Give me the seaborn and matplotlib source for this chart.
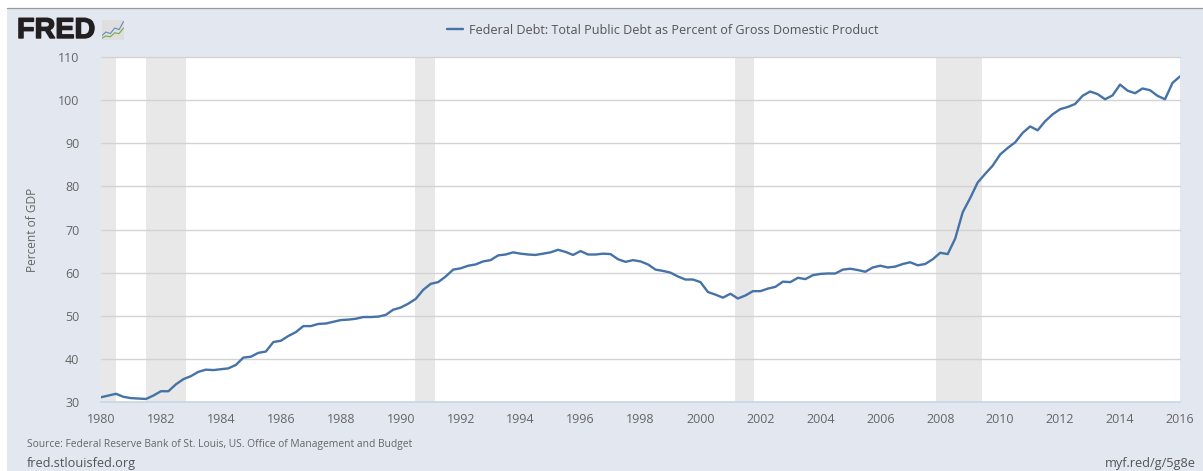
import numpy as np
import pandas as pd
import matplotlib
matplotlib.use("Agg")
import matplotlib.pyplot as plt
import matplotlib.patheffects as pe
from matplotlib.patches import Rectangle
from matplotlib.lines import Line2D
import seaborn as sns

START_YEAR = 1980
debt_pct_gdp = [
    31.1, 31.5, 31.9, 31.2, 30.9, 30.8, 30.7, 31.5, 32.5, 32.5, 34.1, 35.3,
    36.0, 37.0, 37.5, 37.4, 37.6, 37.8, 38.6, 40.3, 40.5, 41.4, 41.7, 43.9,
    44.2, 45.3, 46.2, 47.6, 47.6, 48.1, 48.2, 48.6, 49.0, 49.1, 49.3, 49.7,
    49.7, 49.8, 50.2, 51.4, 51.9, 52.8, 53.9, 56.0, 57.4, 57.8, 59.1, 60.7,
    61.0, 61.6, 61.9, 62.6, 62.9, 64.0, 64.2, 64.7, 64.4, 64.2, 64.1, 64.4,
    64.7, 65.3, 64.8, 64.1, 65.0, 64.2, 64.2, 64.4, 64.3, 63.1, 62.5, 62.9,
    62.6, 61.9, 60.7, 60.4, 60.0, 59.1, 58.4, 58.4, 57.8, 55.5, 54.9, 54.2,
    55.1, 54.0, 54.7, 55.7, 55.7, 56.3, 56.7, 57.9, 57.8, 58.8, 58.5, 59.4,
    59.7, 59.8, 59.8, 60.7, 60.9, 60.6, 60.2, 61.2, 61.6, 61.2, 61.4, 62.0,
    62.4, 61.7, 62.0, 63.1, 64.6, 64.3, 67.9, 74.0, 77.3, 80.9, 82.9, 84.8,
    87.4, 88.9, 90.2, 92.4, 93.9, 93.0, 95.1, 96.7, 97.9, 98.4, 99.1, 101.0,
    102.0, 101.4, 100.2, 101.1, 103.6, 102.2, 101.6, 102.7, 102.3, 101.0, 100.2, 104.0,
    105.5,
]
recession_starts = [1980.0, 1981.5, 1990.48, 2001.15, 2007.87]
recession_ends = [1980.5, 1982.83, 1991.13, 2001.8, 2009.4]
x_ticks = list(range(1980, 2017, 2))
y_ticks = [30, 40, 50, 60, 70, 80, 90, 100, 110]
series_name = "Federal Debt: Total Public Debt as Percent of Gross Domestic Product"
y_label = "Percent of GDP"
source_text = "Source: Federal Reserve Bank of St. Louis, US. Office of Management and Budget"
icon_blue = [1, 2, 1.6, 3, 2.6, 4.6]
icon_green = [0.4, 1, 0.8, 1.8, 1.6, 3.0]

W, H = 1203, 471
PANEL = "#e2e7f0"
TXT = "#666666"
BLUE = "#4572a7"

sns.set_theme(style="white")
plt.rcParams["font.family"] = ["Open Sans", "DejaVu Sans"]

fig = plt.figure(figsize=(W / 100, H / 100), dpi=100, facecolor="white")
def fx(p): return p / W
def fy(p): return 1 - p / H

fig.add_artist(Rectangle((fx(7), 0), 1 - fx(7), fy(8), transform=fig.transFigure, fc=PANEL, ec="none", zorder=-5))
fig.add_artist(Line2D([fx(7), 1], [fy(8), fy(8)], transform=fig.transFigure, color="#9a9a9a", lw=0.9, zorder=-4))

ax = fig.add_axes([fx(101), fy(402), fx(1180 - 101), (402 - 57) / H])
ax.set_facecolor("white")

df = pd.DataFrame({"year": [START_YEAR + i / 4 for i in range(len(debt_pct_gdp))],
                   "debt": debt_pct_gdp})
for s, e in zip(recession_starts, recession_ends):
    ax.axvspan(s, e, color="#e8e8e8", lw=0, zorder=1)
for v in y_ticks[1:]:
    ax.axhline(v, color="#d3d3d3", lw=1.0, zorder=2, clip_on=False)
sns.lineplot(data=df, x="year", y="debt", ax=ax, color=BLUE, lw=1.7, label=series_name,
             zorder=3, errorbar=None, clip_on=True)

ax.set_xlim(1980, 2016)
ax.set_ylim(30, 110)
ax.set_xticks(x_ticks)
ax.set_yticks(y_ticks)
ax.set_xlabel("")
ax.set_ylabel(y_label, fontsize=8.6, color=TXT, labelpad=0)
ax.yaxis.set_label_coords(-62 / (1180 - 101), 0.5)
ax.tick_params(axis="x", length=5, width=0.9, color="#c8d6e6", labelsize=9, labelcolor=TXT, pad=3)
ax.tick_params(axis="y", length=0, labelsize=9, labelcolor=TXT, pad=15.5)
for side in ("top", "left", "right"):
    ax.spines[side].set_visible(False)
ax.spines["bottom"].set_color("#c8d6e6")
ax.spines["bottom"].set_linewidth(1.2)

leg = ax.legend(loc="center left", bbox_to_anchor=(fx(447) - 4 / W, fy(30)), bbox_transform=fig.transFigure,
                frameon=False, fontsize=9.08, handlelength=1.27, handletextpad=0.48, borderpad=0, borderaxespad=0.3)
for t in leg.get_texts():
    t.set_color("#555555")
for h in leg.get_lines():
    h.set_linewidth(1.7)

logo = fig.text(fx(17), fy(30), "FRED", fontsize=20.7, fontweight="bold", color="#231f20", va="center", ha="left",
                family=["Liberation Sans", "DejaVu Sans"])
logo.set_path_effects([pe.withStroke(linewidth=1.0, foreground="#231f20")])
icon = fig.add_axes([fx(101.5), fy(40), 22 / W, 20 / H])
icon.set_facecolor("#dedede")
icon.plot(icon_blue, color="#5f8fb5", lw=0.8)
icon.plot(icon_green, color="#76a848", lw=0.8)
icon.set_ylim(0, 5)
icon.set_xlim(0, 5)
icon.set_xticks([]); icon.set_yticks([])
for sp in icon.spines.values():
    sp.set_visible(False)

fig.text(fx(27), fy(444.5), source_text, fontsize=7.4, color=TXT, va="center", ha="left")
fig.text(fx(27), fy(463), "fred.stlouisfed.org", fontsize=9.15, color="#555555", va="center", ha="left")
fig.text(fx(1105), fy(463), "myf.red/g/5g8e", fontsize=9.15, color="#555555", va="center", ha="left")

fig.savefig("out.png", dpi=100, facecolor="white")
